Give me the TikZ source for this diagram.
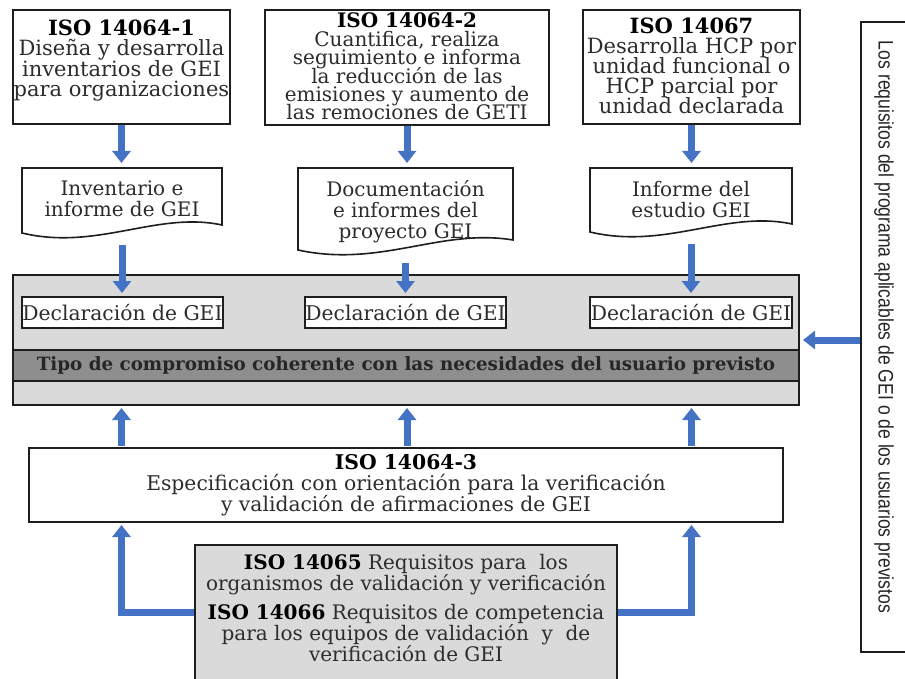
\documentclass[tikz,border=0pt]{standalone}
\usepackage{fontspec}
\usepackage{graphicx}
\setmainfont{DejaVu Serif}
\newfontfamily\reqfont{Liberation Sans}
\usetikzlibrary{arrows.meta,calc}
\newcommand\tightls{\lineskiplimit=-50pt\relax}
\definecolor{arrowblue}{HTML}{4472C4}
\definecolor{boxgray}{HTML}{DADADA}
\definecolor{bandgray}{HTML}{8E8E8E}
\definecolor{txtgray}{HTML}{2C2C2C}
\definecolor{framecol}{HTML}{1E1E1E}
\tikzset{
  frame/.style={draw=framecol, line width=1.6pt, inner sep=0pt, outer sep=0pt, anchor=north west},
  whitebox/.style={frame, fill=white},
  txt/.style={inner sep=0pt, outer sep=0pt, align=center, text=txtgray},
  docarea/.style={inner sep=0pt, outer sep=0pt, anchor=north west},
  barrow/.style={draw=arrowblue, line width=7pt, -{Triangle[width=18pt,length=12pt]}},
  f20/.style={font=\fontsize{20}{21}\selectfont},
}
\begin{document}
\begin{tikzpicture}[x=1pt,y=-1pt]
\useasboundingbox (0,0) rectangle (905,679);

% ---- top boxes
\node[whitebox, minimum width=217pt, minimum height=114pt] (box1) at (13,10) {};
\node[whitebox, minimum width=284pt, minimum height=115pt] (box2) at (265,10) {};
\node[whitebox, minimum width=217pt, minimum height=114pt] (box3) at (583,10) {};
\node[txt, anchor=north, font=\fontsize{21}{20.4}\selectfont\tightls] (box1t) at (121.5,20)
  {\textbf{\color{black}ISO 14064-1}\\Diseña y desarrolla\\inventarios de GEI\\para organizaciones};
\node[txt, anchor=north, font=\fontsize{20}{18.4}\selectfont\tightls] (box2t) at (407,13)
  {\textbf{\color{black}ISO 14064-2}\\Cuantifica, realiza\\seguimiento e informa\\la reducción de las\\emisiones y aumento de\\las remociones de GETI};
\node[txt, anchor=north, font=\fontsize{21}{20}\selectfont\tightls] (box3t) at (691.5,18)
  {\textbf{\color{black}ISO 14067}\\Desarrolla HCP por\\unidad funcional o\\HCP parcial por\\unidad declarada};

% ---- document shapes
\node[docarea, minimum width=200pt, minimum height=65pt] (doc1) at (22,168) {};
\node[docarea, minimum width=215pt, minimum height=82pt] (doc2) at (298,168) {};
\node[docarea, minimum width=202pt, minimum height=64pt] (doc3) at (590,168) {};
\foreach \d/\dr in {doc1/-8, doc2/-10, doc3/-8}{
  \draw[draw=framecol, line width=1.6pt, fill=white]
    (\d.south west) -- (\d.north west) -- (\d.north east) -- ($(\d.south east)+(0,\dr)$)
    .. controls ($(\d.south)+(35,-22)$) and ($(\d.south)+(-25,18)$) .. (\d.south west) -- cycle;
}
\node[txt, anchor=north, f20] (doc1t) at (122,181) {Inventario e\\informe de GEI};
\node[txt, anchor=north, f20] (doc2t) at (405.5,181) {Documentación\\e informes del\\proyecto GEI};
\node[txt, anchor=north, f20] (doc3t) at (691,181) {Informe del\\estudio GEI};

% ---- big gray box
\node[frame, fill=boxgray, minimum width=786pt, minimum height=130pt] (gray) at (13,275) {};
\node[frame, fill=bandgray, minimum width=786pt, minimum height=31pt, text=black!85,
      font=\bfseries\fontsize{18.3}{20}\selectfont] (band) at (13,350)
  {Tipo de compromiso coherente con las necesidades del usuario previsto};
\node[whitebox, minimum width=201pt, minimum height=31pt, text=txtgray, font=\fontsize{20.3}{21}\selectfont] (dec1) at (22,297) {Declaración de GEI};
\node[whitebox, minimum width=201pt, minimum height=31pt, text=txtgray, font=\fontsize{20.3}{21}\selectfont] (dec2) at (305,297) {Declaración de GEI};
\node[whitebox, minimum width=202pt, minimum height=31pt, text=txtgray, font=\fontsize{20.3}{21}\selectfont] (dec3) at (590,297) {Declaración de GEI};

% ---- ISO 14064-3
\node[whitebox, minimum width=754pt, minimum height=74pt, align=center, text=txtgray,
      font=\fontsize{20.3}{21}\selectfont] (iso3) at (29,448)
  {\textbf{\color{black}ISO 14064-3}\\Especificación con orientación para la verificación\\y validación de afirmaciones de GEI};

% ---- ISO 14065 / 14066
\node[frame, fill=boxgray, minimum width=422pt, minimum height=135pt] (iso5) at (195,545) {};
\node[txt, anchor=north, font=\fontsize{20}{20.8}\selectfont] (iso5t) at (406,554)
  {\textbf{\color{black}ISO 14065} Requisitos para\ \ los\\organismos de validación y verificación\\[9pt]
   \textbf{\color{black}ISO 14066} Requisitos de competencia\\para los equipos de validación\ \ y\ \ de\\verificación de GEI};

% ---- requirements box at right
\node[frame, fill=white, minimum width=70pt, minimum height=630pt] (req) at (861,22) {};
\node[inner sep=0pt, rotate=-90, text=black!85] (reqt) at (884,327)
  {\resizebox{572pt}{\height}{\reqfont\fontsize{21}{22}\selectfont Los requisitos del programa aplicables de GEI o de los usuarios previstos}};

% ---- arrows
\draw[barrow, shorten <=1pt, shorten >=5pt] (box1.south) -- (box1.south |- doc1.north);
\draw[barrow, shorten <=1pt, shorten >=5pt] (box2.south) -- (box2.south |- doc2.north);
\draw[barrow, shorten <=1pt, shorten >=5pt] (box3.south) -- (box3.south |- doc3.north);
\draw[barrow, shorten <=12pt, shorten >=4pt] (doc1.south) -- (doc1.south |- dec1.north);
\draw[barrow, shorten <=13pt, shorten >=4pt] (doc2.south) -- (doc2.south |- dec2.north);
\draw[barrow, shorten <=12pt, shorten >=4pt] (doc3.south) -- (doc3.south |- dec3.north);
\draw[barrow, shorten <=2pt, shorten >=3pt] (iso3.north -| box1.south) -- (gray.south -| box1.south);
\draw[barrow, shorten <=2pt, shorten >=3pt] (iso3.north -| box2.south) -- (gray.south -| box2.south);
\draw[barrow, shorten <=2pt, shorten >=3pt] (iso3.north -| box3.south) -- (gray.south -| box3.south);
\draw[barrow, shorten <=1pt, shorten >=3pt] (iso5.west) -| (iso3.south -| box1.south);
\draw[barrow, shorten <=1pt, shorten >=3pt] (iso5.east) -| (iso3.south -| box3.south);
\draw[barrow, shorten <=1pt, shorten >=4pt] (req.west |- 0,340) -- (gray.east |- 0,340);
\end{tikzpicture}
\end{document}
